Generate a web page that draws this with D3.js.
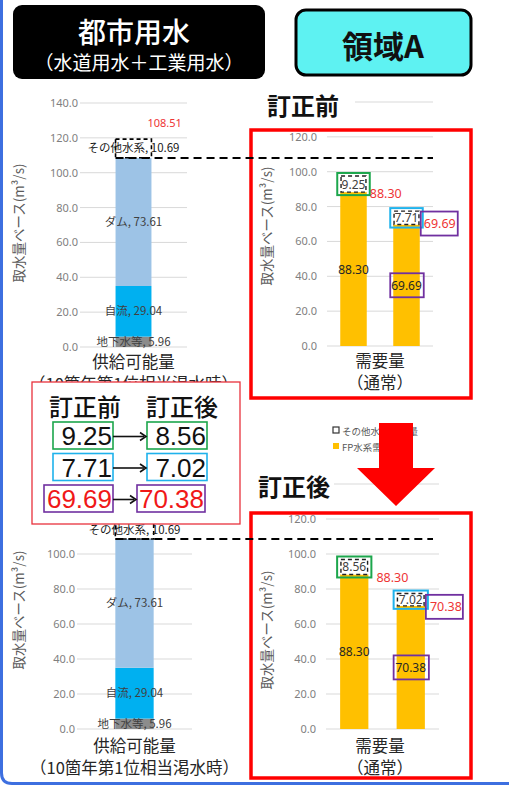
<!DOCTYPE html>
<html>
<head>
<meta charset="utf-8">
<script src="https://cdn.jsdelivr.net/npm/d3@7"></script>
<style>
  body { margin: 0; background: #fff; }
  svg { display: block; }
</style>
</head>
<body>
<script>
// ---- data ----
const supplyKeys = ["地下水等", "自流", "ダム", "その他水系"];
const supplyValues = [5.96, 29.04, 73.61, 10.69];
const supplyColors = ["#8c8c8c", "#00b0f0", "#9dc3e6", "#ffffff"];
const supplyTotal = 108.51;
const supplyCategory = ["供給可能量", "（10箇年第1位相当渇水時）"];
const demandCategory = ["需要量", "（通常）"];
const yTicks = [0, 20, 40, 60, 80, 100, 120, 140];
const demandFpBefore = [88.30, 69.69];
const demandOtherBefore = [9.25, 7.71];
const demandFpAfter = [88.30, 70.38];
const demandOtherAfter = [8.56, 7.02];
const legendLabels = ["その他水系需要量", "FP水系需要量"];
const headerTitle = ["都市用水", "（水道用水＋工業用水）"];
const regionLabel = "領域A";
const stageLabels = ["訂正前", "訂正後"];
const yTitle = "取水量ベース(m³/s)";

const W = 509, H = 793;
const JP = "'Noto Sans CJK JP', 'Noto Sans', sans-serif";
const NUM = "'Liberation Sans', Arial, sans-serif";
const TICK = "'Noto Sans', 'Open Sans', sans-serif";
const RED = "#ee3535", GREEN = "#1ca64c", CYAN = "#1fb2ec", PURPLE = "#7030a0";
const fmt = d3.format(".2f");

const svg = d3.select("body").append("svg").attr("width", W).attr("height", H);

// page frame
svg.append("path")
  .attr("d", "M1.5,0 V773 Q1.5,783.5 12,783.5 H509")
  .attr("fill", "none").attr("stroke", "#3d6fe0").attr("stroke-width", 3);

// header blocks
svg.append("rect").attr("x", 13).attr("y", 5).attr("width", 252).attr("height", 74)
  .attr("rx", 9).attr("fill", "#000");
svg.append("text").attr("x", 134).attr("y", 43).attr("text-anchor", "middle")
  .attr("font-family", JP).attr("font-size", 28).attr("font-weight", 500).attr("fill", "#fff")
  .text(headerTitle[0]);
svg.append("text").attr("x", 139).attr("y", 70).attr("text-anchor", "middle")
  .attr("font-family", JP).attr("font-size", 19).attr("fill", "#fff")
  .text(headerTitle[1]);
svg.append("rect").attr("x", 296).attr("y", 10).attr("width", 175).attr("height", 65)
  .attr("rx", 10).attr("fill", "#5ef2f2").attr("stroke", "#000").attr("stroke-width", 3);
svg.append("text").attr("x", 383).attr("y", 58).attr("text-anchor", "middle")
  .attr("font-family", JP).attr("font-size", 31).attr("font-weight", 700).attr("fill", "#111")
  .text(regionLabel);

// gridlines for every tick; labels only up to labelMax (higher ones sit under other blocks)
function axisBase(g, y, gridX0, gridX1, labelX, labelMax) {
  g.selectAll(null).data(yTicks).join("line")
    .attr("x1", gridX0).attr("x2", gridX1)
    .attr("y1", d => y(d)).attr("y2", d => y(d))
    .attr("stroke", "#d9d9d9").attr("stroke-width", 1);
  g.selectAll(null).data(yTicks.filter(t => t <= labelMax)).join("text")
    .attr("x", labelX).attr("y", d => y(d) + 4)
    .attr("text-anchor", "end").attr("font-family", TICK).attr("font-size", 11)
    .attr("fill", "#7f7f7f").text(d => d3.format(".1f")(d));
}

function yAxisTitle(g, x, cy) {
  g.append("text").attr("transform", `translate(${x},${cy}) rotate(-90)`)
    .attr("text-anchor", "middle").attr("font-family", JP).attr("font-size", 13.5)
    .attr("fill", "#595959").text(yTitle);
}

function categoryLabel(g, lines, cx, y1, y2) {
  [y1, y2].forEach((yy, i) => {
    g.append("text").attr("x", cx).attr("y", yy).attr("text-anchor", "middle")
      .attr("font-family", JP).attr("font-size", 16.5).attr("fill", "#262626").text(lines[i]);
  });
}

// stacked supply bar
function supplyPanel(cfg) {
  const g = svg.append("g");
  const y = d3.scaleLinear().domain([0, 140]).range([cfg.y0, cfg.y140]);
  const x = d3.scaleBand().domain([supplyCategory[0]]).range(cfg.grid)
    .paddingInner(0).paddingOuter(cfg.pad);
  axisBase(g, y, cfg.grid[0], cfg.grid[1], cfg.grid[0] - 2, cfg.labelMax);
  yAxisTitle(g, cfg.titleX, cfg.titleY);

  const row = {};
  supplyKeys.forEach((k, i) => row[k] = supplyValues[i]);
  const series = d3.stack().keys(supplyKeys)([row]);
  const bx = x(supplyCategory[0]), bw = x.bandwidth(), cx = bx + bw / 2;

  series.forEach((s, i) => {
    const d = s[0];
    const last = i === series.length - 1;
    g.append("rect").attr("x", bx).attr("width", bw)
      .attr("y", y(d[1])).attr("height", y(d[0]) - y(d[1]))
      .attr("fill", supplyColors[i])
      .attr("stroke", last ? "#000" : "none")
      .attr("stroke-width", last ? 1.6 : 0)
      .attr("stroke-dasharray", last ? "4,3" : null);
  });
  series.forEach((s, i) => {
    const d = s[0];
    g.append("text").attr("x", cx).attr("y", y((d[0] + d[1]) / 2) + 4)
      .attr("text-anchor", "middle").attr("font-family", JP).attr("font-size", 11.5)
      .attr("fill", i === series.length - 1 ? "#1a1a1a" : "#404040")
      .text(`${supplyKeys[i]}, ${fmt(supplyValues[i])}`);
  });
  categoryLabel(g, supplyCategory, cx, cfg.catY[0], cfg.catY[1]);
  return { y, x, bx, bw };
}

// demand bars: FP demand plus other-system demand on top
function demandPanel(cfg, fp, other) {
  const g = svg.append("g");
  const y = d3.scaleLinear().domain([0, 140]).range([cfg.y0, cfg.y140]);
  const x = d3.scaleBand().domain(d3.range(fp.length)).range(cfg.grid)
    .paddingInner(0.5).paddingOuter(0.25);
  axisBase(g, y, cfg.grid[0], cfg.grid[1], cfg.grid[0] - 10, 120);
  yAxisTitle(g, cfg.titleX, cfg.titleY);

  const rows = fp.map((v, i) => ({ i, fp: v, other: other[i] }));
  const series = d3.stack().keys(["fp", "other"])(rows);
  const bw = x.bandwidth();

  // FP segment
  g.selectAll(null).data(series[0]).join("rect")
    .attr("x", d => x(d.data.i)).attr("width", bw)
    .attr("y", d => y(d[1])).attr("height", d => y(d[0]) - y(d[1]))
    .attr("fill", "#ffc000");
  // other-system segment
  g.selectAll(null).data(series[1]).join("rect")
    .attr("x", d => x(d.data.i) + 0.8).attr("width", bw - 1.6)
    .attr("y", d => y(d[1])).attr("height", d => y(d[0]) - y(d[1]))
    .attr("fill", "#fff").attr("stroke", "#222").attr("stroke-width", 1.4)
    .attr("stroke-dasharray", "4,3");

  const boxColors = [GREEN, CYAN];
  // labels inside FP segment
  series[0].forEach((d, i) => {
    const cx = x(i) + bw / 2, cy = y((d[0] + d[1]) / 2);
    if (i === 1) {
      g.append("rect").attr("x", x(i) - 3).attr("y", cy - 12).attr("width", bw + 7).attr("height", 24)
        .attr("fill", "none").attr("stroke", PURPLE).attr("stroke-width", 1.8);
    }
    g.append("text").attr("x", cx).attr("y", cy + 4.5).attr("text-anchor", "middle")
      .attr("font-family", TICK).attr("font-size", 12).attr("fill", "#262626")
      .text(fmt(d.data.fp));
  });
  // labels for other-system segment, with highlight boxes
  series[1].forEach((d, i) => {
    const cx = x(i) + bw / 2, top = y(d[1]), bot = y(d[0]);
    g.append("rect").attr("x", x(i) - 3).attr("y", top - 3)
      .attr("width", bw + 6).attr("height", bot - top + 6)
      .attr("fill", "none").attr("stroke", boxColors[i]).attr("stroke-width", 2);
    g.append("text").attr("x", cx).attr("y", (top + bot) / 2 + 4.5).attr("text-anchor", "middle")
      .attr("font-family", TICK).attr("font-size", 12).attr("fill", "#404040")
      .text(fmt(d.data.other));
  });
  // FP totals on the right of each bar
  series[0].forEach((d, i) => {
    const lx = x(i) + bw + cfg.redGap[i], ly = y(d[1]) + cfg.redDy[i];
    if (i === 1) {
      g.append("rect").attr("x", x(i) + bw + 1).attr("y", ly - 16).attr("width", 37).attr("height", 24)
        .attr("fill", "none").attr("stroke", PURPLE).attr("stroke-width", 1.8);
    }
    g.append("text").attr("x", lx).attr("y", ly).attr("font-family", TICK)
      .attr("font-size", 12.5).attr("fill", RED).text(fmt(d.data.fp));
  });

  categoryLabel(g, demandCategory, cfg.catX, cfg.catY[0], cfg.catY[1]);
  // highlight frame
  g.append("rect").attr("x", cfg.box[0]).attr("y", cfg.box[1])
    .attr("width", cfg.box[2]).attr("height", cfg.box[3])
    .attr("fill", "none").attr("stroke", "#f00").attr("stroke-width", 3.5);
  return { y, x };
}

function stageTitle(text, x, baseline, bgW) {
  svg.append("rect").attr("x", x - 4).attr("y", baseline - 24).attr("width", bgW).attr("height", 30)
    .attr("fill", "#fff");
  svg.append("text").attr("x", x).attr("y", baseline).attr("font-family", JP)
    .attr("font-size", 24).attr("font-weight", 700).attr("fill", "#111").text(text);
}

function totalLine(yScale, x0, x1) {
  svg.append("line").attr("x1", x0).attr("x2", x1)
    .attr("y1", yScale(supplyTotal)).attr("y2", yScale(supplyTotal))
    .attr("stroke", "#000").attr("stroke-width", 2).attr("stroke-dasharray", "8,5");
}

// ---- before correction ----
const topSupply = supplyPanel({ y0: 347, y140: 103, grid: [80, 187], pad: 0.99, labelMax: 140,
  titleX: 24, titleY: 223, catY: [368, 390] });
svg.append("text").attr("x", topSupply.bx + topSupply.bw - 4).attr("y", 127)
  .attr("font-family", TICK).attr("font-size", 11).attr("fill", RED).text(fmt(supplyTotal));
demandPanel({ y0: 346, y140: 102, grid: [327, 433], titleX: 272, titleY: 226,
  redGap: [3, 4], redDy: [6, 3], catX: 380, catY: [367, 389],
  box: [251, 130, 220, 268] }, demandFpBefore, demandOtherBefore);
totalLine(topSupply.y, topSupply.bx, 433);
stageTitle(stageLabels[0], 267, 115, 92);

// legend
const lg = svg.append("g").attr("font-family", JP).attr("font-size", 9.5).attr("fill", "#595959");
legendLabels.forEach((t, i) => {
  const yy = 431 + i * 16;
  lg.append("rect").attr("x", 333).attr("y", yy - 4).attr("width", 6).attr("height", 6)
    .attr("fill", i === 0 ? "#fff" : "#ffc000")
    .attr("stroke", i === 0 ? "#333" : "none").attr("stroke-width", 1.2);
  lg.append("text").attr("x", 342).attr("y", yy + 3.5).text(t);
});

// ---- after correction ----
const botSupply = supplyPanel({ y0: 729, y140: 484, grid: [77, 192], pad: 1.0, labelMax: 100,
  titleX: 24, titleY: 610, catY: [752, 774] });
demandPanel({ y0: 729, y140: 484, grid: [326, 439], titleX: 272, titleY: 630,
  redGap: [8, 5], redDy: [8, 5], catX: 380, catY: [752, 774],
  box: [251, 513, 220, 265] }, demandFpAfter, demandOtherAfter);
totalLine(botSupply.y, botSupply.bx, 433);
stageTitle(stageLabels[1], 258, 496, 80);

// red arrow between the two stages
svg.append("path")
  .attr("d", "M379,423 H413 V468 H435 L396,506 L357,468 H379 Z")
  .attr("fill", "#ff0000");

// correction summary table
const inset = svg.append("g");
inset.append("rect").attr("x", 32).attr("y", 382).attr("width", 208).attr("height", 142)
  .attr("fill", "#fff").attr("stroke", "#e8323c").attr("stroke-width", 1.3);
inset.append("text").attr("x", 85).attr("y", 416).attr("text-anchor", "middle")
  .attr("font-family", JP).attr("font-size", 24).attr("font-weight", 500).attr("fill", "#111")
  .text(stageLabels[0]);
inset.append("text").attr("x", 182).attr("y", 416).attr("text-anchor", "middle")
  .attr("font-family", JP).attr("font-size", 24).attr("font-weight", 500).attr("fill", "#111")
  .text(stageLabels[1]);
const changes = [
  { before: demandOtherBefore[0], after: demandOtherAfter[0], box: GREEN, color: "#111", x0: [53, 147], w: [60, 60] },
  { before: demandOtherBefore[1], after: demandOtherAfter[1], box: CYAN, color: "#111", x0: [53, 147], w: [60, 60] },
  { before: demandFpBefore[1], after: demandFpAfter[1], box: PURPLE, color: "#f01818", x0: [44, 137], w: [69, 68] }
];
changes.forEach((c, i) => {
  const top = 422 + i * 31.5;
  [c.before, c.after].forEach((v, j) => {
    inset.append("rect").attr("x", c.x0[j]).attr("y", top).attr("width", c.w[j]).attr("height", 27)
      .attr("fill", "none").attr("stroke", c.box).attr("stroke-width", 1.6);
    inset.append("text").attr("x", c.x0[j] + c.w[j] - 1).attr("y", top + 23)
      .attr("text-anchor", "end").attr("font-family", NUM).attr("font-size", 26)
      .attr("fill", c.color).text(fmt(v));
  });
  // connecting arrow from the old value to the new one
  const ay = top + 14.5, ax0 = c.x0[0] + c.w[0], ax1 = c.x0[1] - 1;
  inset.append("line").attr("x1", ax0).attr("x2", ax1 - 2).attr("y1", ay).attr("y2", ay)
    .attr("stroke", "#111").attr("stroke-width", 1.6);
  inset.append("path").attr("d", `M${ax1 - 6},${ay - 4} L${ax1},${ay} L${ax1 - 6},${ay + 4}`)
    .attr("fill", "none").attr("stroke", "#111").attr("stroke-width", 1.6);
});
</script>
</body>
</html>
